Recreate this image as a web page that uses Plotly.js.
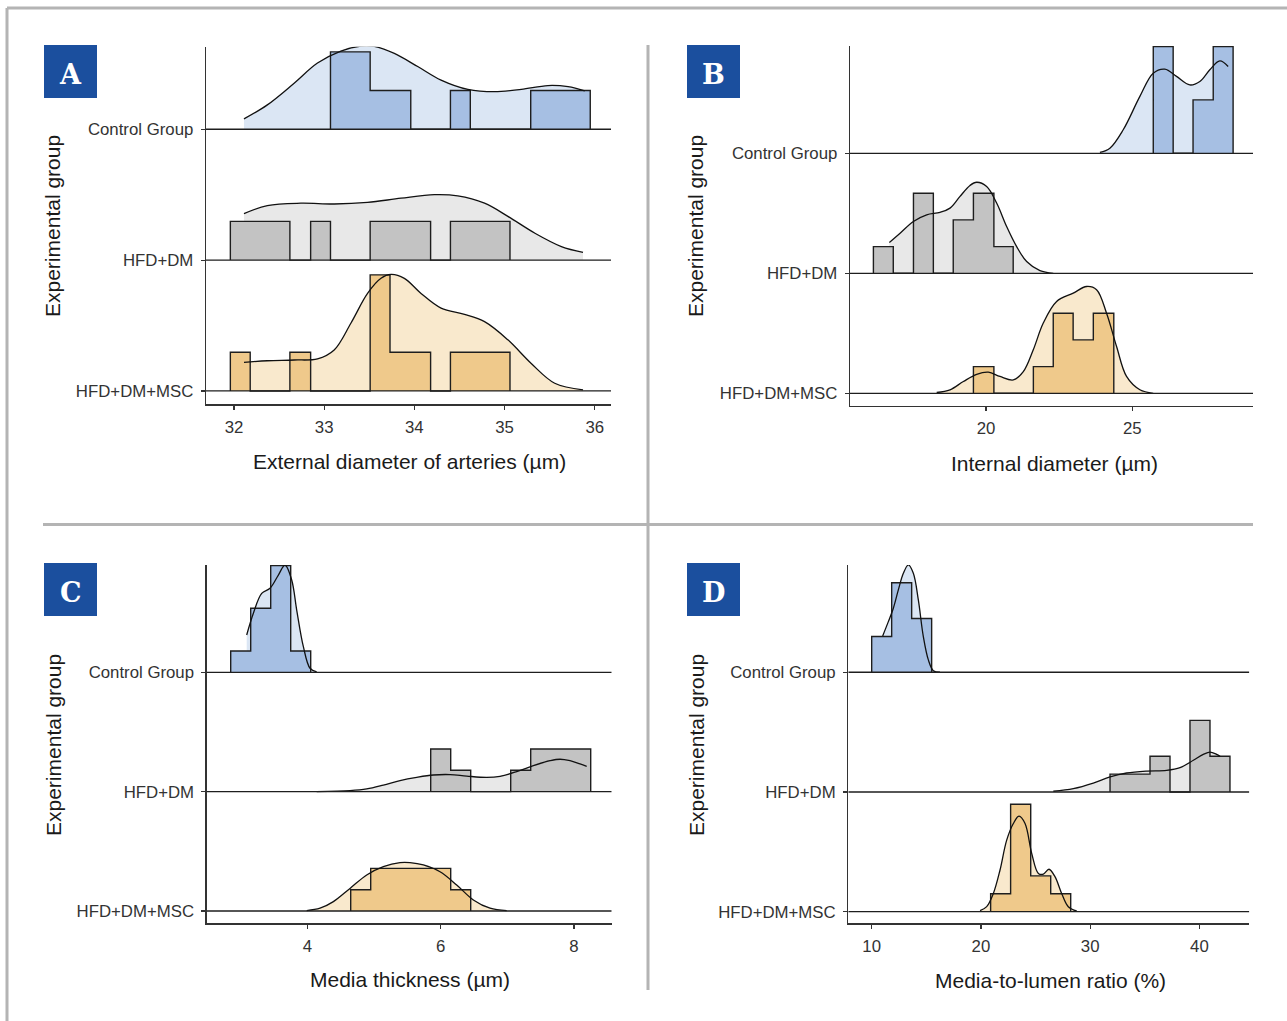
<!DOCTYPE html>
<html><head><meta charset="utf-8">
<script src="https://cdn.plot.ly/plotly-3.0.1.min.js"></script>
<style>html,body{margin:0;padding:0;background:#fff}#chart{width:1287px;height:1021px}</style>
</head><body><div id="chart"></div>
<script>
// ---------- DATA ----------
const groupLabels = ['HFD+DM+MSC', 'HFD+DM', 'Control Group'];
const groupPos = [1, 2, 3];

// Panel A: External diameter of arteries (µm)
const A_xticks = [32, 33, 34, 35, 36];
const A_ctrl_edges = [33.07, 33.51, 33.96, 34.40, 34.62, 35.29, 35.95];
const A_ctrl_counts = [2, 1, 0, 1, 0, 1];
const A_ctrl_dx = [32.111, 32.370, 32.667, 32.926, 33.185, 33.407, 33.556, 33.778, 34.037, 34.296, 34.593, 34.889, 35.185, 35.481, 35.704, 35.889];
const A_ctrl_dy = [0.27, 0.63, 1.19, 1.71, 2.02, 2.15, 2.14, 1.96, 1.62, 1.27, 1.03, 0.97, 1.03, 1.13, 1.10, 0.99];
const A_hfd_edges = [31.96, 32.62, 32.85, 33.07, 33.51, 34.18, 34.40, 35.06];
const A_hfd_counts = [1, 0, 1, 0, 1, 0, 1];
const A_hfd_dx = [32.111, 32.370, 32.741, 33.111, 33.481, 33.852, 34.222, 34.481, 34.778, 35.037, 35.333, 35.630, 35.870];
const A_hfd_dy = [1.20, 1.41, 1.47, 1.45, 1.49, 1.60, 1.69, 1.66, 1.47, 1.13, 0.70, 0.35, 0.20];
const A_msc_edges = [31.96, 32.18, 32.62, 32.85, 33.51, 33.73, 34.18, 34.40, 35.06];
const A_msc_counts = [1, 0, 1, 0, 3, 1, 0, 1];
const A_msc_dx = [32.111, 32.370, 32.667, 32.926, 33.111, 33.296, 33.481, 33.630, 33.741, 33.889, 34.074, 34.296, 34.556, 34.778, 35.037, 35.296, 35.556, 35.870];
const A_msc_dy = [0.74, 0.78, 0.80, 0.83, 1.06, 1.75, 2.52, 2.91, 3.01, 2.91, 2.52, 2.14, 1.98, 1.79, 1.32, 0.71, 0.20, 0.03];

// Panel B: Internal diameter (µm)
const B_xticks = [20, 25];
const B_ctrl_edges = [25.72, 26.40, 27.08, 27.77, 28.45];
const B_ctrl_counts = [4, 0, 2, 4];
const B_ctrl_dx = [23.895, 24.237, 24.692, 25.262, 25.718, 26.116, 26.515, 26.970, 27.312, 27.654, 27.995, 28.280];
const B_ctrl_dy = [0.03, 0.19, 0.88, 2.13, 3.00, 3.15, 2.88, 2.56, 2.69, 3.13, 3.46, 3.25];
const B_hfd_edges = [16.15, 16.83, 17.52, 18.20, 18.88, 19.57, 20.27, 20.93];
const B_hfd_counts = [1, 0, 3, 0, 2, 3, 1];
const B_hfd_dx = [16.697, 17.062, 17.517, 17.973, 18.428, 18.770, 19.112, 19.453, 19.681, 20.023, 20.364, 20.706, 21.048, 21.390, 21.845, 22.301];
const B_hfd_dy = [1.15, 1.50, 1.94, 2.19, 2.28, 2.44, 2.88, 3.29, 3.41, 3.25, 2.63, 1.75, 1.00, 0.44, 0.10, 0.00];
const B_msc_edges = [19.57, 20.27, 21.62, 22.30, 22.98, 23.67, 24.37];
const B_msc_counts = [1, 0, 1, 3, 2, 3];
const B_msc_dx = [18.314, 18.770, 19.226, 19.681, 20.080, 20.478, 20.934, 21.276, 21.617, 21.959, 22.415, 22.984, 23.440, 23.781, 24.123, 24.465, 24.806, 25.262, 25.718];
const B_msc_dy = [0.03, 0.13, 0.44, 0.71, 0.79, 0.63, 0.50, 0.81, 1.63, 2.63, 3.44, 3.75, 4.00, 3.88, 3.00, 1.75, 0.63, 0.13, 0.00];

// Panel C: Media thickness (µm)
const C_xticks = [4, 6, 8];
const C_ctrl_edges = [2.85, 3.15, 3.45, 3.75, 4.05];
const C_ctrl_counts = [1, 3, 5, 1];
const C_ctrl_dx = [3.09, 3.19, 3.315, 3.44, 3.565, 3.665, 3.765, 3.84, 3.94, 4.04, 4.14];
const C_ctrl_dy = [1.75, 2.77, 3.70, 3.94, 4.56, 5.03, 4.33, 2.92, 1.20, 0.19, 0.02];
const C_hfd_edges = [5.85, 6.15, 6.45, 7.05, 7.35, 8.25];
const C_hfd_counts = [2, 1, 0, 1, 2];
const C_hfd_dx = [4.14, 4.64, 4.89, 5.14, 5.39, 5.64, 5.89, 6.14, 6.39, 6.69, 6.89, 7.14, 7.39, 7.64, 7.79, 7.94, 8.09, 8.19];
const C_hfd_dy = [0.00, 0.05, 0.13, 0.31, 0.52, 0.67, 0.78, 0.80, 0.73, 0.67, 0.72, 0.94, 1.22, 1.45, 1.52, 1.45, 1.30, 1.19];
const C_msc_edges = [4.65, 4.95, 6.15, 6.45];
const C_msc_counts = [1, 2, 1];
const C_msc_dx = [3.99, 4.19, 4.39, 4.64, 4.89, 5.14, 5.39, 5.54, 5.74, 5.99, 6.24, 6.49, 6.74, 6.99];
const C_msc_dy = [0.02, 0.13, 0.44, 1.06, 1.69, 2.08, 2.27, 2.27, 2.16, 1.84, 1.22, 0.52, 0.13, 0.02];

// Panel D: Media-to-lumen ratio (%)
const D_xticks = [10, 20, 30, 40];
const D_ctrl_edges = [10.0, 11.83, 13.66, 15.49];
const D_ctrl_counts = [2, 5, 3];
const D_ctrl_dx = [11.007, 11.526, 11.984, 12.441, 12.899, 13.357, 13.814, 14.272, 14.730, 15.188, 15.646, 16.256];
const D_ctrl_dy = [2.03, 2.83, 3.58, 4.60, 5.53, 6.00, 5.53, 4.04, 1.99, 0.69, 0.09, 0.00];
const D_hfd_edges = [31.82, 35.48, 37.31, 39.14, 40.97, 42.80];
const D_hfd_counts = [1, 2, 0, 4, 2];
const D_hfd_dx = [26.63, 28.46, 30.29, 31.82, 33.34, 35.18, 37.00, 38.23, 39.45, 40.36, 40.97, 41.58, 41.89];
const D_hfd_dy = [0.04, 0.19, 0.50, 0.84, 1.06, 1.17, 1.21, 1.36, 1.77, 2.10, 2.23, 2.10, 1.99];
const D_msc_edges = [20.89, 22.72, 24.56, 26.39, 28.22];
const D_msc_counts = [1, 6, 2, 1];
const D_msc_dx = [19.92, 20.53, 21.14, 21.75, 22.36, 22.97, 23.49, 24.04, 24.65, 25.26, 25.72, 26.23, 26.78, 27.39, 28.00, 28.77];
const D_msc_dy = [0.06, 0.28, 1.02, 2.33, 4.00, 4.93, 5.34, 4.93, 3.26, 2.14, 2.10, 2.37, 1.96, 1.02, 0.28, 0.04];

// ---------- LAYOUT HELPERS ----------
const W = 1287, H = 1021;
const px = x => x / W, py = y => 1 - y / H;
const FONT = 'Liberation Sans, Arial, sans-serif';
const COL = {
  ctrl: {light: '#dbe6f4', dark: '#a6bfe3'},
  hfd:  {light: '#e8e8e8', dark: '#c3c3c3'},
  msc:  {light: '#f9e9cd', dark: '#efc98b'}
};

const panels = [
  {letter: 'A', n: '', xdom: [206, 611], ydom: [46.7, 404.3], xrange: [31.69, 36.18], yrange: [0.898, 3.631], scale: 0.2958,
   xticks: A_xticks, xtitle: 'External diameter of arteries (µm)', box: [44, 45], xt: [409, 461], yt: [53, 226],
   g: {ctrl: [A_ctrl_edges, A_ctrl_counts, A_ctrl_dx, A_ctrl_dy], hfd: [A_hfd_edges, A_hfd_counts, A_hfd_dx, A_hfd_dy], msc: [A_msc_edges, A_msc_counts, A_msc_dx, A_msc_dy]}},
  {letter: 'B', n: '2', xdom: [850, 1253], ydom: [46, 406], xrange: [15.35, 29.13], yrange: [0.894, 3.894], scale: 0.2225,
   xticks: B_xticks, xtitle: 'Internal diameter (µm)', box: [687, 45], xt: [1054, 463], yt: [696, 226],
   g: {ctrl: [B_ctrl_edges, B_ctrl_counts, B_ctrl_dx, B_ctrl_dy], hfd: [B_hfd_edges, B_hfd_counts, B_hfd_dx, B_hfd_dy], msc: [B_msc_edges, B_msc_counts, B_msc_dx, B_msc_dy]}},
  {letter: 'C', n: '3', xdom: [206.7, 611.7], ydom: [565, 923.3], xrange: [2.49, 8.565], yrange: [0.897, 3.899], scale: 0.1787,
   xticks: C_xticks, xtitle: 'Media thickness (µm)', box: [44, 563], xt: [410, 979], yt: [53, 745],
   g: {ctrl: [C_ctrl_edges, C_ctrl_counts, C_ctrl_dx, C_ctrl_dy], hfd: [C_hfd_edges, C_hfd_counts, C_hfd_dx, C_hfd_dy], msc: [C_msc_edges, C_msc_counts, C_msc_dx, C_msc_dy]}},
  {letter: 'D', n: '4', xdom: [848.3, 1249.3], ydom: [565, 923.3], xrange: [7.86, 44.57], yrange: [0.903, 3.896], scale: 0.1495,
   xticks: D_xticks, xtitle: 'Media-to-lumen ratio (%)', box: [687, 563], xt: [1050, 980], yt: [696, 745],
   g: {ctrl: [D_ctrl_edges, D_ctrl_counts, D_ctrl_dx, D_ctrl_dy], hfd: [D_hfd_edges, D_hfd_counts, D_hfd_dx, D_hfd_dy], msc: [D_msc_edges, D_msc_counts, D_msc_dx, D_msc_dy]}}
];

const traces = [];
const layout = {
  width: W, height: H, margin: {l: 0, r: 0, t: 0, b: 0},
  paper_bgcolor: '#ffffff', plot_bgcolor: 'rgba(0,0,0,0)',
  showlegend: false, shapes: [], annotations: []
};

function addGroup(p, key, pos) {
  const [edges, counts, dx, dy] = p.g[key];
  const c = COL[key];
  const base = {xaxis: 'x' + p.n, yaxis: 'y' + p.n, hoverinfo: 'skip', showlegend: false, mode: 'lines'};
  const dyy = dy.map(v => pos + v * p.scale);
  // density area
  traces.push({...base, x: [dx[0], dx[dx.length - 1]], y: [pos, pos], line: {width: 0}});
  traces.push({...base, x: dx, y: dyy, fill: 'tonexty', fillcolor: c.light, line: {width: 0, shape: 'spline', smoothing: 1}});
  // histogram
  const hx = [edges[0], ...edges];
  const hy = [pos, ...counts.map(v => pos + v * p.scale), pos];
  traces.push({...base, x: [edges[0], edges[edges.length - 1]], y: [pos, pos], line: {width: 0}});
  traces.push({...base, x: hx, y: hy, fill: 'tonexty', fillcolor: c.dark, line: {color: '#1e1e1e', width: 1.4, shape: 'hv'}});
  // density outline
  traces.push({...base, x: dx, y: dyy, line: {color: '#111111', width: 1.3, shape: 'spline', smoothing: 1}});
  // baseline
  traces.push({...base, x: p.xrange, y: [pos, pos], line: {color: '#1e1e1e', width: 1.3}});
}

panels.forEach(p => {
  addGroup(p, 'ctrl', groupPos[2]);
  addGroup(p, 'hfd', groupPos[1]);
  addGroup(p, 'msc', groupPos[0]);
  const axCommon = {showgrid: false, zeroline: false, showline: true, linecolor: '#333333', linewidth: 1.3,
    ticks: 'outside', ticklen: 4, tickcolor: '#333333', tickwidth: 1.2,
    tickfont: {family: FONT, size: 16.8, color: '#333333'}, fixedrange: true};
  layout['xaxis' + p.n] = {...axCommon, domain: [px(p.xdom[0]), px(p.xdom[1])], range: p.xrange,
    tickmode: 'array', tickvals: p.xticks, ticktext: p.xticks.map(String), anchor: 'y' + p.n, ticklabelstandoff: 3};
  layout['yaxis' + p.n] = {...axCommon, domain: [py(p.ydom[1]), py(p.ydom[0])], range: p.yrange,
    tickmode: 'array', tickvals: groupPos, ticktext: groupLabels, anchor: 'x' + p.n, ticklabelstandoff: 4};
  // axis titles
  layout.annotations.push({xref: 'paper', yref: 'paper', x: px(p.xt[0]), y: py(p.xt[1]), xanchor: 'center', yanchor: 'middle',
    text: p.xtitle, showarrow: false, font: {family: FONT, size: 21, color: '#1a1a1a'}});
  layout.annotations.push({xref: 'paper', yref: 'paper', x: px(p.yt[0]), y: py(p.yt[1]), xanchor: 'center', yanchor: 'middle',
    text: 'Experimental group', textangle: -90, showarrow: false, font: {family: FONT, size: 21, color: '#1a1a1a'}});
  // panel letter box
  layout.shapes.push({type: 'rect', xref: 'paper', yref: 'paper', x0: px(p.box[0]), x1: px(p.box[0] + 53),
    y0: py(p.box[1] + 53), y1: py(p.box[1]), fillcolor: '#1b4f9e', line: {width: 0}, layer: 'above'});
  layout.annotations.push({xref: 'paper', yref: 'paper', x: px(p.box[0] + 26.5), y: py(p.box[1] + 29), xanchor: 'center', yanchor: 'middle',
    text: '<b>' + p.letter + '</b>', showarrow: false, font: {family: 'DejaVu Serif, serif', size: 27, color: '#ffffff'}});
});

// frame and divider lines
const FRAME = '#b4b4b4';
[[7, 8, W, 8], [7, 8, 7, H], [648, 45, 648, 990], [43, 524.5, 1253, 524.5]].forEach(l => {
  layout.shapes.push({type: 'line', xref: 'paper', yref: 'paper', x0: px(l[0]), y0: py(l[1]), x1: px(l[2]), y1: py(l[3]),
    line: {color: FRAME, width: 3}, layer: 'above'});
});

Plotly.newPlot('chart', traces, layout, {staticPlot: true, displayModeBar: false});
</script>
</body></html>
